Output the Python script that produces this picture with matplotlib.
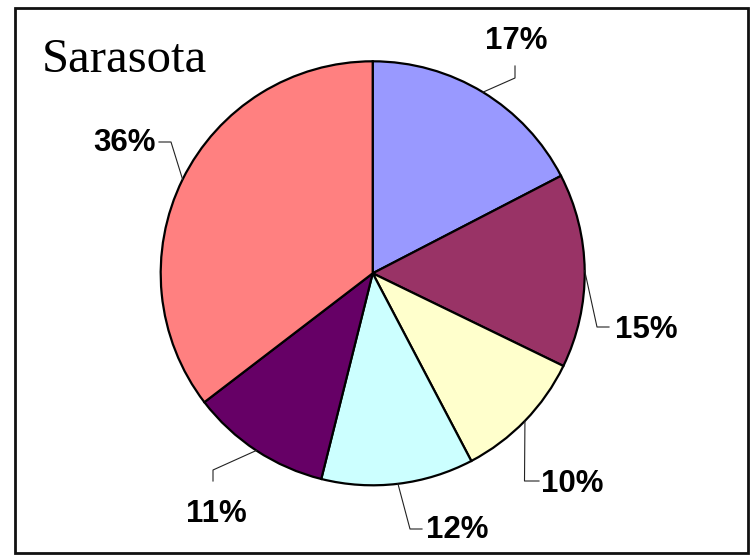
import numpy as np
import matplotlib
matplotlib.use("Agg")
import matplotlib.pyplot as plt
from matplotlib.patches import Rectangle

# Data (clockwise from 12 o'clock)
labels = ["17%", "15%", "10%", "12%", "11%", "36%"]
values = [17.4, 14.8, 10.1, 11.6, 10.7, 35.4]
colors = ["#9999FF", "#993366", "#FFFFCC", "#CCFFFF", "#660066", "#FF8080"]
title = "Sarasota"

W, H = 752, 555
fig = plt.figure(figsize=(W / 100, H / 100), dpi=100)
ax = fig.add_axes([0, 0, 1, 1])
ax.set_xlim(0, W)
ax.set_ylim(0, H)
ax.set_aspect("equal")
ax.axis("off")

def py(y):  # pixel y (top-down) -> data y
    return H - y

cx, cy, R = 372.7, py(273.3), 212
wedges, _ = ax.pie(values, colors=colors, startangle=90, counterclock=False,
                   center=(cx, cy), radius=R, frame=True,
                   wedgeprops=dict(edgecolor="black", linewidth=1.6))
ax.set_xlim(0, W)
ax.set_ylim(0, H)
ax.axis("off")

# label text positions (pixels: center x, baseline y) and elbow points
text_pos = [(516, 49), (646, 338), (572, 492), (457, 538), (216, 522), (125, 151)]
elbows = [
    [(515, 66), (515, 78)],
    [(609, 327), (597, 327)],
    [(539, 481), (524.5, 481)],
    [(422, 529), (410, 529)],
    [(213, 481), (213, 470)],
    [(159, 142), (171, 142)],
]

for w, lab, tp, el in zip(wedges, labels, text_pos, elbows):
    mid = np.deg2rad((w.theta1 + w.theta2) / 2)
    ax_x = cx + R * np.cos(mid)
    ax_y = cy + R * np.sin(mid)
    xs = [el[0][0], el[1][0], ax_x]
    ys = [py(el[0][1]), py(el[1][1]), ax_y]
    ax.plot(xs, ys, color="#222222", linewidth=0.8, zorder=1)
    ax.text(tp[0], py(tp[1]), lab, ha="center", va="baseline",
            fontsize=22.5, fontweight="bold", family="Liberation Sans", color="black")

ax.text(42, py(72), title, ha="left", va="baseline", fontsize=35,
        family="Liberation Serif", color="black")

# border
ax.add_patch(Rectangle((15, py(553)), 733, 545, fill=False,
                       edgecolor="#111111", linewidth=2, clip_on=False))

fig.savefig("out.png", dpi=100)
